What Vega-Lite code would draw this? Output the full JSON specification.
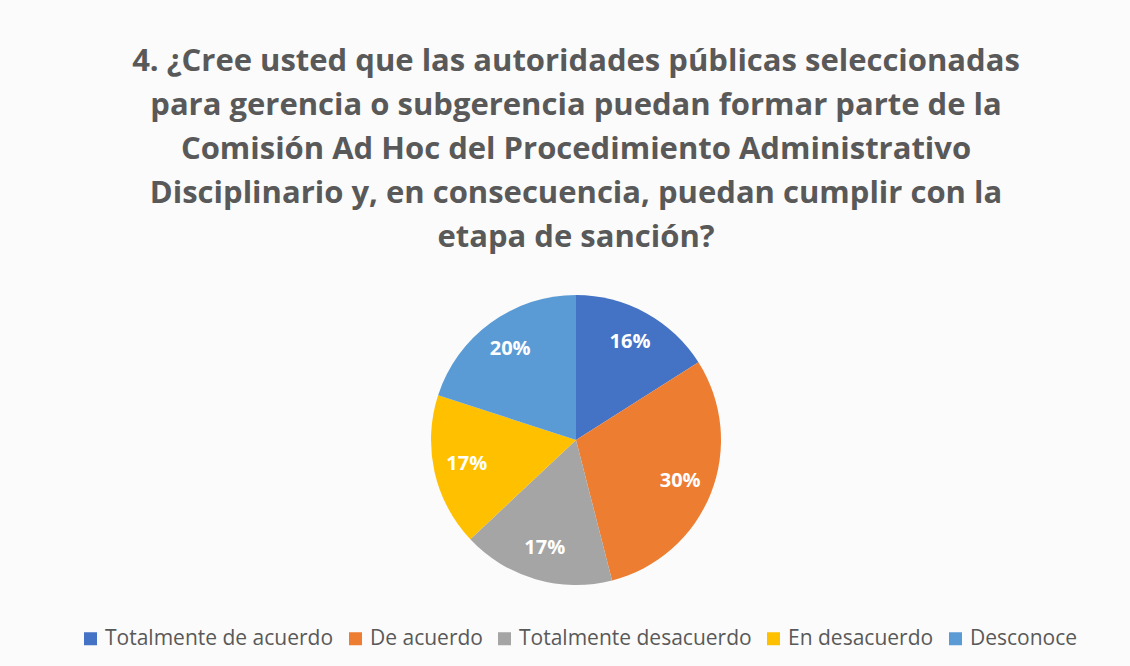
{
  "$schema": "https://vega.github.io/schema/vega-lite/v6.json",
  "width": 1108,
  "height": 300,
  "padding": {"left": 22, "top": 290, "right": 0, "bottom": 76},
  "autosize": {"type": "none"},
  "background": "#fbfbfb",
  "title": {
    "text": [
      "4. ¿Cree usted que las autoridades públicas seleccionadas",
      "para gerencia o subgerencia puedan formar parte de la",
      "Comisión Ad Hoc del Procedimiento Administrativo",
      "Disciplinario y, en consecuencia, puedan cumplir con la",
      "etapa de sanción?"
    ],
    "font": "Open Sans",
    "fontSize": 31,
    "fontWeight": "bold",
    "color": "#595959",
    "lineHeight": 44,
    "anchor": "middle",
    "offset": 36
  },
  "data": {
    "values": [
      {"cat": "Totalmente de acuerdo", "share": 0.16, "idx": 1},
      {"cat": "De acuerdo", "share": 0.30, "idx": 2},
      {"cat": "Totalmente desacuerdo", "share": 0.17, "idx": 3},
      {"cat": "En desacuerdo", "share": 0.17, "idx": 4},
      {"cat": "Desconoce", "share": 0.20, "idx": 5}
    ]
  },
  "layer": [
    {
      "mark": {"type": "arc", "outerRadius": 145, "strokeWidth": 0},
      "encoding": {
        "theta": {"field": "share", "type": "quantitative", "stack": true},
        "order": {"field": "idx", "type": "quantitative"},
        "color": {
          "field": "cat",
          "type": "nominal",
          "sort": null,
          "scale": {
            "domain": ["Totalmente de acuerdo", "De acuerdo", "Totalmente desacuerdo", "En desacuerdo", "Desconoce"],
            "range": ["#4472C4", "#ED7D31", "#A5A5A5", "#FFC000", "#5B9BD5"]
          },
          "legend": {
            "orient": "none",
            "legendX": 58,
            "legendY": 338,
            "direction": "horizontal",
            "title": null,
            "symbolType": "square",
            "symbolSize": 169,
            "symbolStrokeWidth": 0,
            "labelFont": "Open Sans",
            "labelFontSize": 21,
            "labelColor": "#595959",
            "labelOffset": 4,
            "columnPadding": 11,
            "labelLimit": 400
          }
        }
      }
    },
    {
      "mark": {"type": "text", "radius": 112, "font": "Open Sans", "fontSize": 20, "fontWeight": "bold", "fill": "#ffffff"},
      "encoding": {
        "theta": {"field": "share", "type": "quantitative", "stack": true},
        "order": {"field": "idx", "type": "quantitative"},
        "detail": {"field": "cat", "type": "nominal"},
        "text": {"field": "share", "type": "quantitative", "format": ".0%"}
      }
    }
  ],
  "config": {"view": {"stroke": null}}
}
